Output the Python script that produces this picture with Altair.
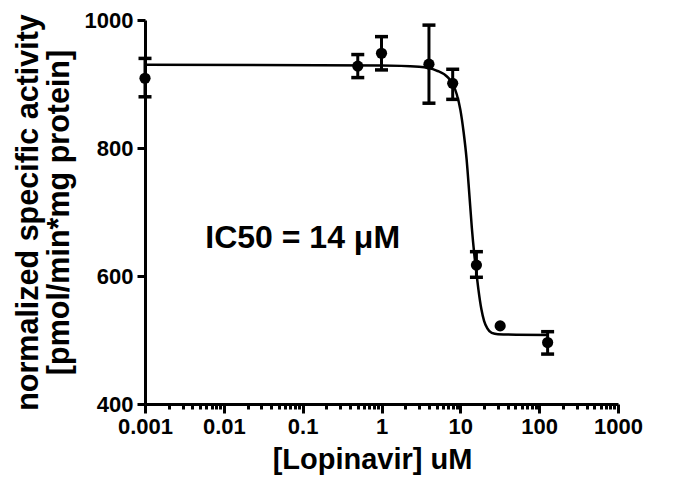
import altair as alt
import pandas as pd

# measured points
conc = [0.001, 0.5, 1, 4, 8, 16, 32, 128]
mean = [909, 928, 948, 931, 901, 617, 522, 496]
err_hi = [940, 946, 974, 992, 923, 638, None, 513]
err_lo = [880, 910, 922, 870, 876, 598, None, 478]

# fitted curve
curve_x = [0.001, 1, 3, 5, 7, 8, 9, 10, 11, 12, 13, 14, 15, 16, 17, 18.5, 20, 22, 25, 30, 128]
curve_y = [930, 929, 927, 921, 910, 900, 884, 860, 825, 783, 728, 675, 635, 605, 578, 548, 530, 518, 511, 509, 508]

# axis ticks
x_major = [0.001, 0.01, 0.1, 1, 10, 100, 1000]
y_ticks = [400, 600, 800, 1000]

annot_text = ["IC50 = 14 \u03bcM"]
annot_x = [0.1]
annot_y = [660]

x_ticks = []
for m in x_major[:-1]:
    for k in range(1, 10):
        x_ticks.append(round(m * k, 6))
x_ticks.append(1000)

pts = pd.DataFrame({"conc": conc, "mean": mean, "hi": err_hi, "lo": err_lo})
curve = pd.DataFrame({"x": curve_x, "y": curve_y})
annot = pd.DataFrame({"t": annot_text, "x": annot_x, "y": annot_y})

FONT = "Liberation Sans"
major_test = "abs(log(datum.value)/LN10 - round(log(datum.value)/LN10)) < 0.01"

xscale = alt.Scale(type="log", domain=[0.001, 1000], nice=False)
yscale = alt.Scale(domain=[400, 1000], nice=False, zero=False)

xaxis = alt.Axis(
    values=x_ticks,
    labelExpr=f"({major_test}) ? format(datum.value, '~g') : ''",
    tickSize={"condition": {"test": major_test, "value": 9}, "value": 5},
    labelOverlap=False,
    labelFlush=False,
    labelPadding=3,
    title="[Lopinavir] uM",
    titlePadding=8,
    titleX=227,
    titleAlign="center",
)
yaxis = alt.Axis(
    values=y_ticks,
    format="d",
    tickSize=8,
    labelPadding=4,
    title=["normalized specific activity", "[pmol/min*mg protein]"],
    titlePadding=10,
    titleFontSize=30.5,
    titleLineHeight=31,
)

base = alt.Chart(pts)

line = alt.Chart(curve).mark_line(color="black", strokeWidth=2.5, interpolate="monotone").encode(
    x=alt.X("x:Q", scale=xscale, axis=xaxis),
    y=alt.Y("y:Q", scale=yscale, axis=yaxis),
)

bars = base.transform_filter("isValid(datum.hi)").mark_rule(color="black", strokeWidth=3).encode(
    x=alt.X("conc:Q", scale=xscale),
    y=alt.Y("lo:Q", scale=yscale),
    y2="hi:Q",
)
cap_hi = base.transform_filter("isValid(datum.hi)").mark_tick(
    color="black", opacity=1, orient="horizontal", size=13, thickness=3.5
).encode(x=alt.X("conc:Q", scale=xscale), y=alt.Y("hi:Q", scale=yscale))
cap_lo = base.transform_filter("isValid(datum.lo)").mark_tick(
    color="black", opacity=1, orient="horizontal", size=13, thickness=3.5
).encode(x=alt.X("conc:Q", scale=xscale), y=alt.Y("lo:Q", scale=yscale))

points = base.mark_circle(color="black", opacity=1, size=125).encode(
    x=alt.X("conc:Q", scale=xscale),
    y=alt.Y("mean:Q", scale=yscale),
)

text = alt.Chart(annot).mark_text(
    font=FONT, fontSize=32, fontWeight="bold", color="black", align="center", baseline="middle"
).encode(
    x=alt.X("x:Q", scale=xscale),
    y=alt.Y("y:Q", scale=yscale),
    text="t:N",
)

chart = alt.layer(line, bars, cap_hi, cap_lo, points, text).properties(
    width=473,
    height=384,
    autosize=alt.AutoSizeParams(type="none"),
    padding={"left": 137, "top": 12, "right": 50, "bottom": 82},
).configure_view(stroke=None).configure_axis(
    domainColor="black",
    domainWidth=3,
    tickColor="black",
    tickWidth=3,
    grid=False,
    labelFont=FONT,
    labelFontSize=22,
    labelFontWeight="bold",
    labelColor="black",
    titleFont=FONT,
    titleFontSize=29,
    titleFontWeight="bold",
    titleColor="black",
)

chart.save("out.html", embed_options={"renderer": "svg", "actions": False})
